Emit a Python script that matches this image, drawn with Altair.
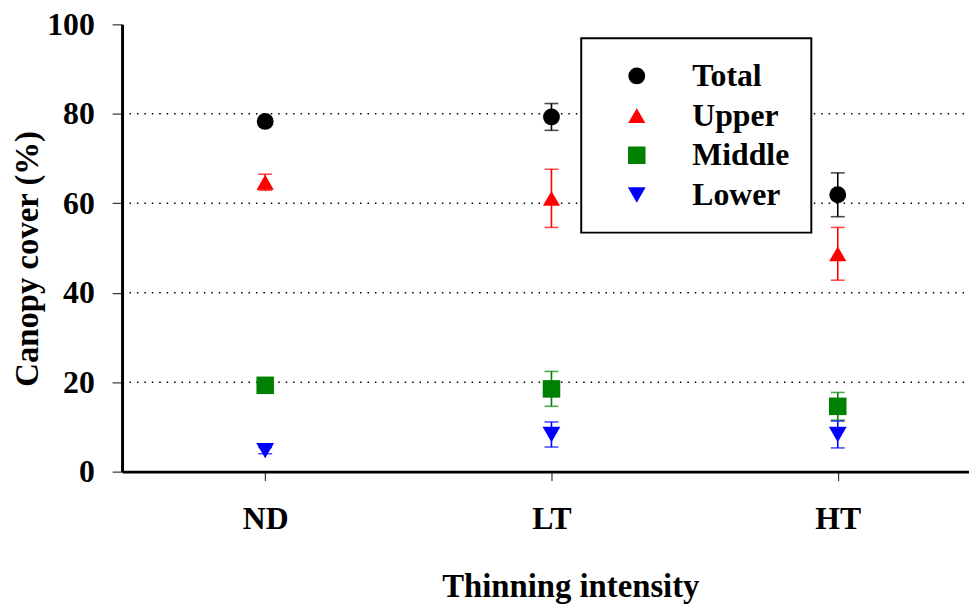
import altair as alt
import pandas as pd

categories = ["ND", "LT", "HT"]
series = ["Total", "Upper", "Middle", "Lower"]
total_mean = [78.3, 79.3, 61.9]
total_se = [0.7, 3.0, 4.9]
upper_mean = [64.7, 61.1, 48.7]
upper_se = [1.8, 6.5, 5.9]
middle_mean = [19.3, 18.5, 14.6]
middle_se = [0.6, 3.9, 3.1]
lower_mean = [4.7, 8.3, 8.3]
lower_se = [0.7, 2.8, 3.0]
grid_values = [20, 40, 60, 80]
y_ticks = [0, 20, 40, 60, 80, 100]

colors = ["#000000", "#ff0000", "#008000", "#0000ff"]
shapes = ["circle", "triangle-up", "square", "triangle-down"]
sizes = [289, 324, 225, 324]

rows = []
for name, means, ses in [("Total", total_mean, total_se), ("Upper", upper_mean, upper_se),
                         ("Middle", middle_mean, middle_se), ("Lower", lower_mean, lower_se)]:
    for c, m, s in zip(categories, means, ses):
        rows.append({"cat": c, "series": name, "mean": m, "lo": m - s, "hi": m + s})
df = pd.DataFrame(rows)
grid_df = pd.DataFrame({"v": grid_values})

FONT = "Liberation Serif"

xscale = alt.Scale(type="point", domain=categories, padding=0.5, range=[0, 866])
yscale = alt.Scale(domain=[0, 100], nice=False, zero=True)

x_enc = alt.X("cat:N", scale=xscale, sort=categories,
              axis=alt.Axis(title="Thinning intensity", labelAngle=0, tickSize=9,
                            labelPadding=23, titleX=452, titleY=126, titleAlign="center",
                            titleBaseline="alphabetic", grid=False))
y_enc = alt.Y("mean:Q", scale=yscale,
              axis=alt.Axis(title="Canopy cover (%)", values=y_ticks, tickSize=10,
                            labelPadding=18, titleX=-85, titleY=236, titleAlign="center",
                            titleBaseline="alphabetic", grid=False))
col_scale = alt.Scale(domain=series, range=colors)
leg = alt.Legend(title=None, orient="none", legendX=463, legendY=14)

grid = alt.Chart(grid_df).mark_rule(color="black", strokeWidth=1.5, strokeDash=[1.5, 6]).encode(
    y=alt.Y("v:Q", scale=yscale), x=alt.value(0), x2=alt.value(866))

err = alt.Chart(df).mark_rule(strokeWidth=1.6).encode(
    x=x_enc, y=alt.Y("lo:Q", scale=yscale), y2="hi:Q",
    stroke=alt.Stroke("series:N", scale=col_scale, title=None, legend=leg))
cap_lo = alt.Chart(df).mark_tick(size=14, thickness=1.6, orient="horizontal").encode(
    x=x_enc, y=alt.Y("lo:Q", scale=yscale),
    fill=alt.Fill("series:N", scale=col_scale, title=None, legend=leg))
cap_hi = alt.Chart(df).mark_tick(size=14, thickness=1.6, orient="horizontal").encode(
    x=x_enc, y=alt.Y("hi:Q", scale=yscale),
    fill=alt.Fill("series:N", scale=col_scale, title=None, legend=leg))

points = alt.Chart(df).mark_point(filled=True, opacity=1, strokeWidth=0).encode(
    x=x_enc, y=y_enc,
    color=alt.Color("series:N", scale=col_scale, title=None, legend=leg),
    shape=alt.Shape("series:N", scale=alt.Scale(domain=series, range=shapes), title=None, legend=leg),
    size=alt.Size("series:N", scale=alt.Scale(domain=series, range=sizes), title=None, legend=leg),
)

chart = alt.layer(grid, err, cap_lo, cap_hi, points).properties(
    width=854, height=451,
    autosize=alt.AutoSizeParams(type="none"),
    padding={"left": 115, "top": 14, "right": 0, "bottom": 134},
).configure_view(stroke=None).configure_axis(
    labelFont=FONT, labelFontWeight="bold", labelFontSize=32, labelColor="black",
    titleFont=FONT, titleFontWeight="bold", titleFontSize=33, titleColor="black",
    domainColor="black", domainWidth=3, tickColor="#333333", tickWidth=1.2,
).configure_legend(
    labelFont=FONT, labelFontWeight="bold", labelFontSize=32, labelColor="black",
    strokeColor="black", strokeWidth=2, fillColor="white", padding=22,
    rowPadding=8, symbolOffset=18, labelOffset=40, symbolStrokeWidth=0,
    symbolOpacity=1,
)

chart.save("out.html", embed_options={"renderer": "svg", "actions": False})
